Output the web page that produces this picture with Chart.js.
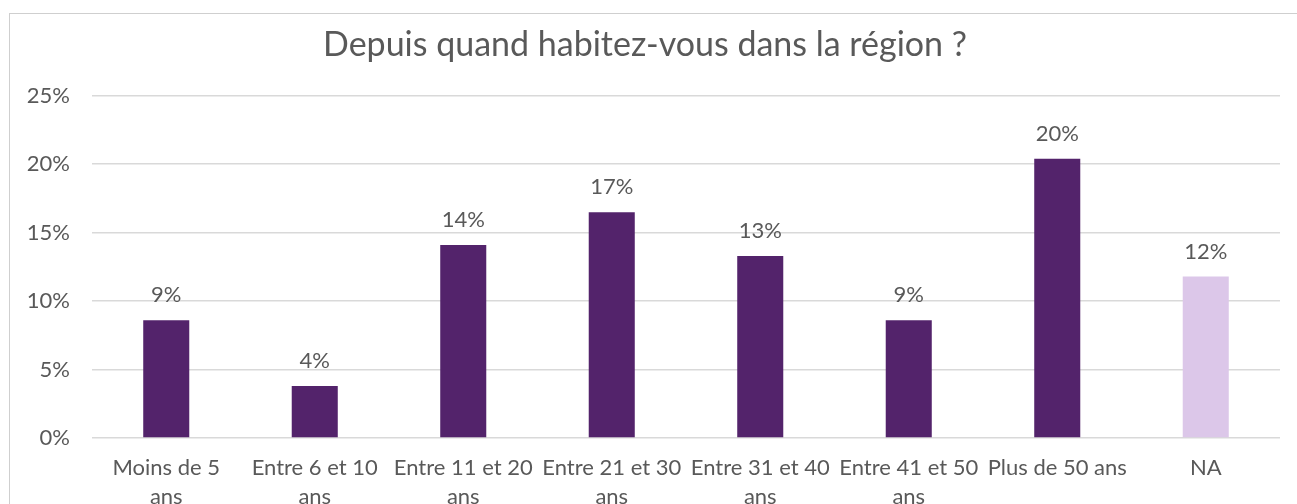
<!DOCTYPE html>
<html>
<head>
<meta charset="utf-8">
<script src="https://cdn.jsdelivr.net/npm/chart.js@4/dist/chart.umd.min.js"></script>
<style>
  html, body { margin: 0; padding: 0; background: #fff; overflow: hidden; }
  #box {
    position: absolute; left: 9px; top: 13px;
    width: 1300px; height: 530px;
    border: 1px solid #cfcfcf;
  }
  #chart { display: block; }
</style>
</head>
<body>
<div id="box"><canvas id="chart" width="1287" height="520"></canvas></div>
<script>
// categories (multi-line labels as shown under the bars)
var categories = [
    ["Moins de 5", "ans"],
    ["Entre 6 et 10", "ans"],
    ["Entre 11 et 20", "ans"],
    ["Entre 21 et 30", "ans"],
    ["Entre 31 et 40", "ans"],
    ["Entre 41 et 50", "ans"],
    "Plus de 50 ans",
    "NA"
];
// share of respondents, in percent
var values = [8.6, 3.8, 14.1, 16.5, 13.3, 8.6, 20.4, 11.8];
var shownLabels = ["9%", "4%", "14%", "17%", "13%", "9%", "20%", "12%"];
var barColors = ["#53236b", "#53236b", "#53236b", "#53236b", "#53236b", "#53236b", "#53236b", "#dcc7e9"];
var yTicks = [0, 5, 10, 15, 20, 25];

var textGray = "#595959";
var fontName = "Lato, 'Open Sans', sans-serif";

// draws the value above each bar
var valueLabels = {
    id: 'valueLabels',
    afterDatasetsDraw: function(chart) {
        var ctx = chart.ctx;
        var meta = chart.getDatasetMeta(0);
        ctx.save();
        ctx.font = "22px " + fontName;
        ctx.fillStyle = textGray;
        ctx.textAlign = "center";
        ctx.textBaseline = "middle";
        meta.data.forEach(function(bar, i) {
            ctx.fillText(shownLabels[i], bar.x, bar.y - 25);
        });
        ctx.restore();
    }
};

new Chart(document.getElementById("chart"), {
    type: 'bar',
    data: {
        labels: categories,
        datasets: [{
            data: values,
            backgroundColor: barColors,
            borderWidth: 0,
            barPercentage: 1,
            categoryPercentage: 0.31
        }]
    },
    options: {
        responsive: false,
        animation: false,
        layout: { padding: { left: 0, right: 17, top: 0, bottom: 0 } },
        plugins: {
            legend: { display: false },
            tooltip: { enabled: false },
            title: {
                display: true,
                text: "Depuis quand habitez-vous dans la région ?",
                color: textGray,
                font: { family: fontName, size: 34, weight: 'normal', lineHeight: 1.2 },
                padding: { top: 11, bottom: 30 }
            }
        },
        scales: {
            x: {
                grid: { display: false, drawTicks: false },
                border: { display: false },
                ticks: {
                    color: textGray,
                    font: { family: fontName, size: 22, lineHeight: 1.32 },
                    padding: 15,
                    maxRotation: 0,
                    autoSkip: false
                },
                afterFit: function(scale) { scale.height = 96; }
            },
            y: {
                min: 0,
                max: 25,
                afterBuildTicks: function(scale) {
                    scale.ticks = yTicks.map(function(v) { return { value: v }; });
                },
                grid: { color: "#d9d9d9", lineWidth: 1.5, drawTicks: false },
                border: { display: false },
                ticks: {
                    color: textGray,
                    font: { family: fontName, size: 22 },
                    padding: 22,
                    callback: function(v) { return v + "%"; }
                },
                afterFit: function(scale) { scale.width = 82; }
            }
        }
    },
    plugins: [valueLabels]
});
</script>
</body>
</html>
